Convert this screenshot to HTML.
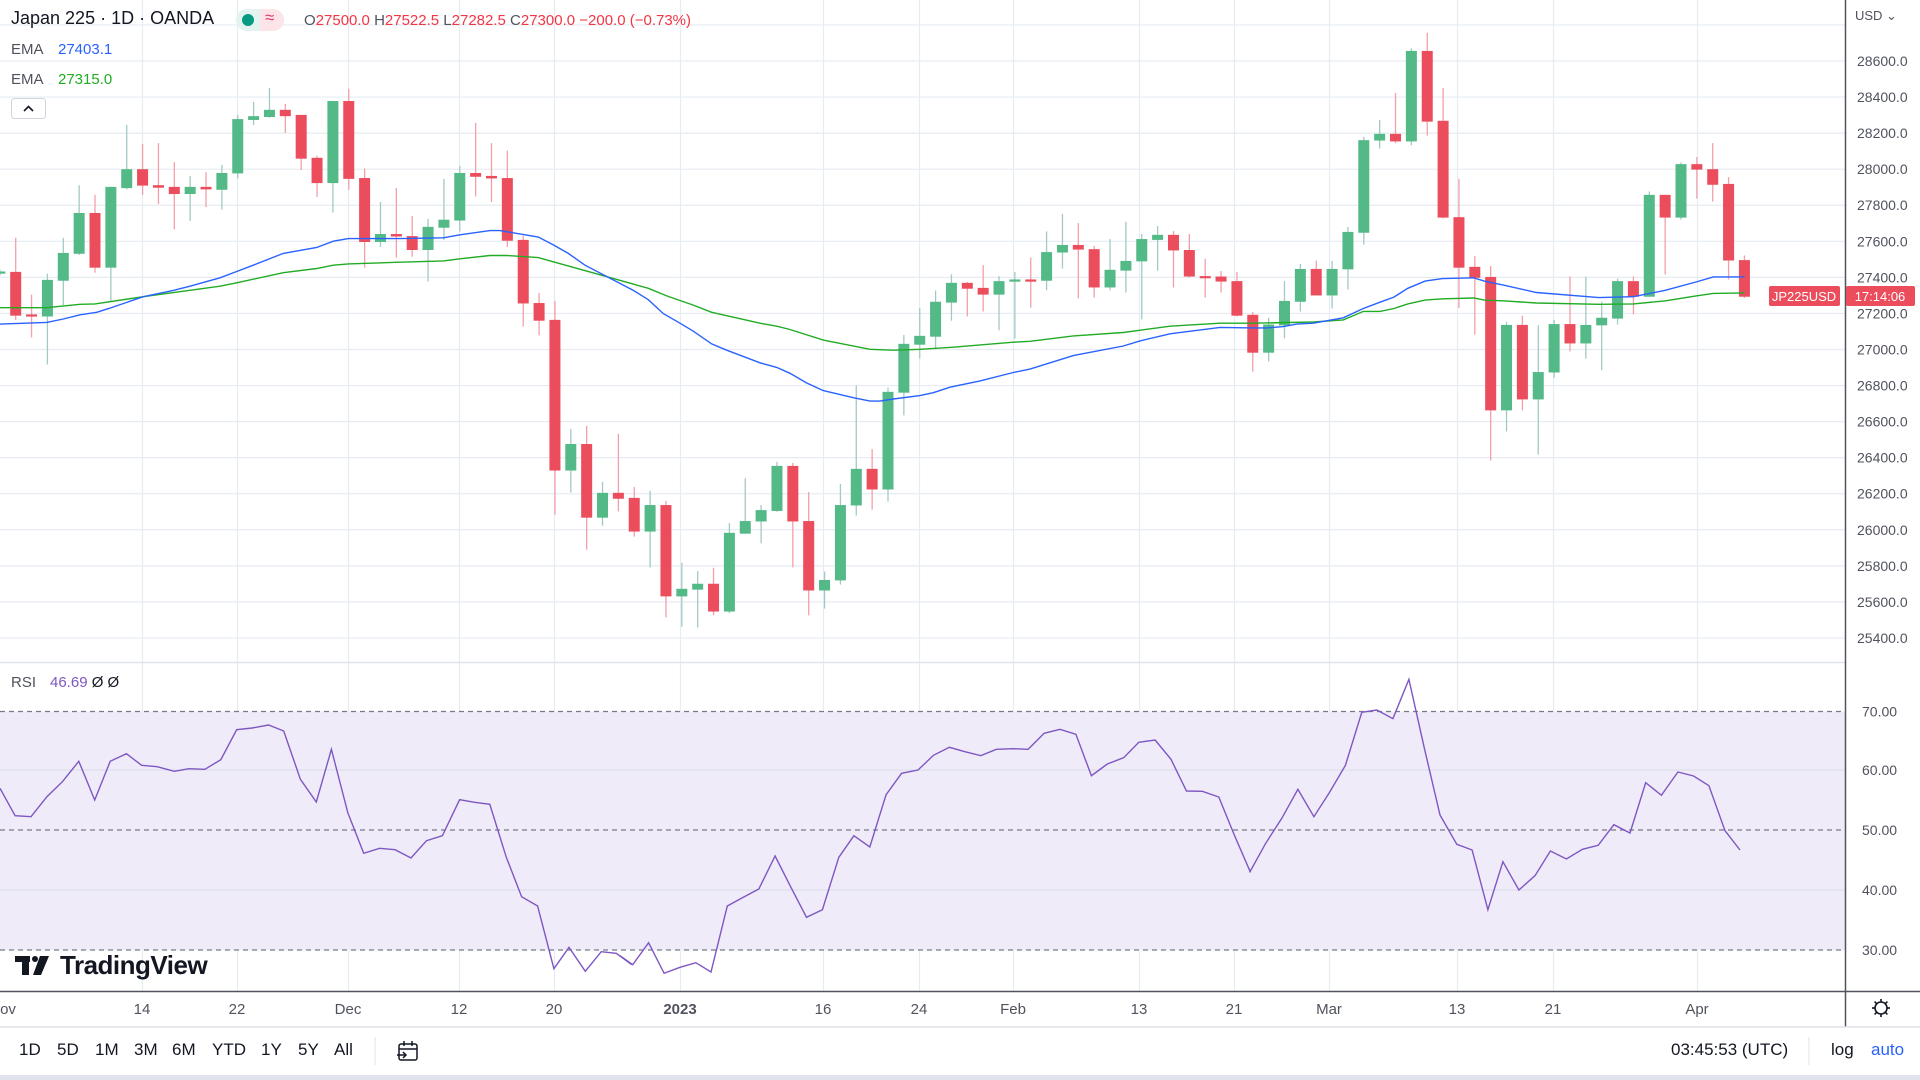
<!DOCTYPE html>
<html><head><meta charset="utf-8"><style>
html,body{margin:0;padding:0;background:#fff;}
body{width:1920px;height:1080px;overflow:hidden;position:relative;font-family:"Liberation Sans","DejaVu Sans",sans-serif;}
svg{position:absolute;left:0;top:0;}
.t{position:absolute;white-space:nowrap;}
</style></head><body>
<svg id="s" width="1920" height="1080" viewBox="0 0 1920 1080">
<g id="grid"></g>
<rect x="0" y="711.5" width="1845" height="238.7" fill="#efebf8"/>
<g id="rsigrid"></g>
<g id="cand"></g>
<g id="lines"></g>
<line x1="0" y1="662.5" x2="1845" y2="662.5" stroke="#e0e3eb" stroke-width="1.5"/>
<line x1="1845.5" y1="0" x2="1845.5" y2="1027" stroke="#50535e" stroke-width="1.5"/>
<line x1="0" y1="991.5" x2="1920" y2="991.5" stroke="#50535e" stroke-width="1.5"/>
<line x1="0" y1="1027" x2="1920" y2="1027" stroke="#e0e3eb" stroke-width="1.5"/>
<rect x="0" y="1075" width="1920" height="5" fill="#e0e3eb"/>
<line x1="375" y1="1037" x2="375" y2="1065" stroke="#e0e3eb"/>
<line x1="1809" y1="1037" x2="1809" y2="1065" stroke="#e0e3eb"/>
<rect x="1769" y="286" width="71" height="20" rx="2" fill="#eb4d5c"/>
<rect x="1846" y="286" width="69" height="20" rx="2" fill="#eb4d5c"/>
<text x="1804" y="301" font-size="13" fill="#fff" text-anchor="middle" font-family="Liberation Sans">JP225USD</text>
<text x="1880" y="301" font-size="13" fill="#fff" text-anchor="middle" font-family="Liberation Sans">17:14:06</text>
<g fill="#131722">
<rect x="15" y="956" width="15" height="6"/><rect x="22" y="956" width="7" height="19"/>
<circle cx="35" cy="959" r="3"/>
<polygon points="40,956 49,956 41,975 33,975"/>
</g>
<text x="60" y="974" font-size="26" font-weight="bold" fill="#131722" font-family="Liberation Sans" letter-spacing="-0.5">TradingView</text>
<g transform="translate(1881,1008)" fill="none" stroke="#131722" stroke-width="1.6">
<circle r="6"/>
<line x1="0" y1="-9" x2="0" y2="-6"/><line x1="0" y1="9" x2="0" y2="6"/>
<line x1="-9" y1="0" x2="-6" y2="0"/><line x1="9" y1="0" x2="6" y2="0"/>
<line x1="-6.4" y1="-6.4" x2="-4.2" y2="-4.2"/><line x1="6.4" y1="6.4" x2="4.2" y2="4.2"/>
<line x1="-6.4" y1="6.4" x2="-4.2" y2="4.2"/><line x1="6.4" y1="-6.4" x2="4.2" y2="-4.2"/>
</g>
<g transform="translate(397,1041)" fill="none" stroke="#131722" stroke-width="1.5">
<rect x="2" y="3" width="18" height="16" rx="2"/><line x1="2" y1="8" x2="20" y2="8"/>
<line x1="7" y1="0" x2="7" y2="5"/><line x1="15" y1="0" x2="15" y2="5"/>
<line x1="0" y1="14" x2="9" y2="14"/><polyline points="6,11 9,14 6,17"/>
</g>
<rect x="11.5" y="98.5" width="34" height="20" rx="3" fill="#fff" stroke="#d1d4dc"/>
<polyline points="24,111 28.5,106.5 33,111" fill="none" stroke="#131722" stroke-width="1.6"/>
<g id="labels" font-family="Liberation Sans" font-size="14" fill="#50535e"></g>
</svg>

<div class="t" style="left:11px;top:8px;font-size:18px;color:#131722;">Japan 225 · 1D · OANDA</div>
<div class="t" style="left:236px;top:9px;width:48px;height:22px;border-radius:11px;background:#e3f3ef;"></div>
<div class="t" style="left:260px;top:9px;width:24px;height:22px;border-radius:0 11px 11px 0;background:#fde4e8;"></div>
<div class="t" style="left:242px;top:14px;width:12px;height:12px;border-radius:6px;background:#089981;"></div>
<div class="t" style="left:265px;top:8px;font-size:17px;color:#e0336f;">≈</div>
<div class="t" style="left:304px;top:12px;font-size:15px;color:#f23645;"><span style="color:#50535e">O</span>27500.0 <span style="color:#50535e">H</span>27522.5 <span style="color:#50535e">L</span>27282.5 <span style="color:#50535e">C</span>27300.0 −200.0 (−0.73%)</div>
<div class="t" style="left:11px;top:41px;font-size:15px;color:#50535e;">EMA</div>
<div class="t" style="left:58px;top:41px;font-size:15px;color:#2962ff;">27403.1</div>
<div class="t" style="left:11px;top:71px;font-size:15px;color:#50535e;">EMA</div>
<div class="t" style="left:58px;top:71px;font-size:15px;color:#22ab25;">27315.0</div>
<div class="t" style="left:11px;top:674px;font-size:15px;color:#50535e;">RSI</div>
<div class="t" style="left:50px;top:674px;font-size:15px;color:#7e57c2;">46.69 <span style="color:#131722">Ø Ø</span></div>
<div class="t" style="left:1855px;top:8px;font-size:13px;color:#50535e;">USD ⌄</div>

<div class="t" style="left:19px;top:1040px;font-size:17px;color:#131722;">
<span style="position:absolute;left:0">1D</span><span style="position:absolute;left:38px">5D</span><span style="position:absolute;left:76px">1M</span><span style="position:absolute;left:115px">3M</span><span style="position:absolute;left:153px">6M</span><span style="position:absolute;left:193px">YTD</span><span style="position:absolute;left:242px">1Y</span><span style="position:absolute;left:279px">5Y</span><span style="position:absolute;left:315px">All</span></div>
<div class="t" style="left:1671px;top:1040px;font-size:17px;color:#131722;">03:45:53 (UTC)</div>
<div class="t" style="left:1831px;top:1040px;font-size:17px;color:#131722;">log</div>
<div class="t" style="left:1871px;top:1040px;font-size:17px;color:#2962ff;">auto</div>

<script>
var NS="http://www.w3.org/2000/svg";
function el(p,t,a,txt){var e=document.createElementNS(NS,t);for(var k in a)e.setAttribute(k,a[k]);if(txt!=null)e.textContent=txt;document.getElementById(p).appendChild(e);return e;}
var VX=[142,237,348,459,554,680,823,919,1013,1139,1234,1329,1457,1553,1697];
var GC="#e6ecf2";
VX.forEach(function(x){el("grid","line",{x1:x+.5,y1:0,x2:x+.5,y2:991,stroke:GC,"stroke-width":1.2});});
function py(p){return 61+(28600-p)/200*36.06;}
for(var p=28800;p>=25400;p-=200){var y=py(p);el("grid","line",{x1:0,y1:y,x2:1845,y2:y,stroke:GC,"stroke-width":1.2});
 if(p<=28600) el("labels","text",{x:1857,y:y+5},p.toFixed(1));}
[770,890].forEach(function(y){el("rsigrid","line",{x1:0,y1:y,x2:1845,y2:y,stroke:"#dcdfea","stroke-width":1.2});});
[711.5,830,950].forEach(function(y){el("rsigrid","line",{x1:0,y1:y,x2:1845,y2:y,stroke:"#787b86","stroke-width":1.2,"stroke-dasharray":"5 4"});});
[["70.00",711.5],["60.00",770],["50.00",830],["40.00",890],["30.00",950]].forEach(function(a){el("labels","text",{x:1862,y:a[1]+5},a[0]);});
[["ov",8],["14",142],["22",237],["Dec",348],["12",459],["20",554],["2023",680],["16",823],["24",919],["Feb",1013],["13",1139],["21",1234],["Mar",1329],["13",1457],["21",1553],["Apr",1697]].forEach(function(a){
 var t=el("labels","text",{x:a[1],y:1014,"text-anchor":"middle","font-size":15,fill:"#50535e"},a[0]); if(a[0]=="2023")t.setAttribute("font-weight","bold");});
var C=[
["g",645,650,640,655],
["r",646,750,565,760],["r",747,752,700,802],["g",665,752,650,866],["g",601,667,565,725],["g",506,603,440,606],["r",506,636,463,648],["g",444,636,444,715],["g",402,447,297,450],["r",402,441,342,463],["r",440,446,340,485],
["r",444,461,385,545],["g",444,461,418,525],["r",444,450,409,492],["g",411,451,392,498],["g",283,412,273,424],["g",276,285,242,297],["g",261,278,209,280],["r",261,276,247,316],["r",273,377,273,404],["r",375,435,370,468],
["g",240,435,240,505],["r",240,425,211,451],["r",423,575,400,636],["g",556,575,480,587],["r",556,562,447,612],["r",561,594,513,610],["g",539,594,520,669],["g",522,541,425,570],["g",411,524,394,550],["r",411,420,292,467],
["r",418,424,340,480],["r",423,572,358,587],["r",570,721,560,776],["r",720,762,696,797],["r",760,1118,715,1223],["g",1055,1118,1019,1170],["r",1055,1230,1012,1306],["g",1171,1230,1145,1249],["r",1171,1185,1031,1215],["r",1183,1263,1157,1275],
["g",1200,1263,1166,1348],["r",1200,1417,1190,1467],["g",1399,1417,1337,1489],["g",1387,1401,1357,1491],["r",1387,1453,1349,1462],["g",1266,1453,1243,1457],["g",1238,1268,1136,1268],["g",1212,1239,1200,1291],["g",1107,1214,1097,1216],["r",1107,1239,1100,1348],
["r",1238,1403,1169,1462],["g",1378,1403,1358,1446],["g",1200,1379,1150,1389],["g",1114,1201,916,1225],["r",1114,1163,1067,1211],["g",931,1163,921,1192],["g",817,933,796,987],["g",798,819,732,852],["g",717,800,690,830],["g",672,719,652,762],
["r",672,686,670,752],["r",684,700,630,740],["g",668,700,656,785],["g",664,668,646,805],["r",664,667,612,731],["g",599,667,550,690],["g",582,600,508,638],["r",582,593,530,709],["r",592,683,584,707],["g",641,683,568,690],
["g",620,643,527,695],["g",568,621,556,759],["g",558,570,537,643],["r",558,595,549,683],["r",594,657,556,659],["r",656,659,615,707],["r",657,669,644,695],["r",668,750,646,752],["r",748,838,741,883],["g",771,838,755,859],
["g",715,773,668,804],["g",639,717,627,740],["r",639,702,619,702],["g",639,702,620,733],["g",551,640,539,688],["g",333,553,325,581],["g",318,334,285,353],["r",318,336,221,340],["g",121,336,115,345],["r",121,289,78,322],
["r",287,517,209,519],["r",516,636,425,732],["r",634,660,608,795],["r",658,975,632,1094],["g",772,975,765,1025],["r",772,949,750,975],["g",884,949,773,1080],["g",770,885,760,898],["r",770,816,657,835],["g",772,816,657,852],
["g",755,773,717,880],["g",668,757,662,771],["r",668,705,657,747],["g",463,705,455,705],["r",463,517,463,652],["g",390,517,386,522],["r",390,403,373,472],["r",402,439,340,479],["r",437,619,421,664],["r",618,705,607,708]];
var K=2.376;
C.forEach(function(c,k){var i=k-1;var x=15.7+15.86*i;var up=c[0]=="g";
 el("cand","line",{x1:x,y1:c[3]/K,x2:x,y2:c[4]/K,stroke:up?"#a3c9c6":"#f39fa9","stroke-width":1.3});
 var t=c[1]/K,b=c[2]/K; if(b-t<2.2){b=t+2.2;}
 el("cand","rect",{x:x-5.5,y:t,width:11,height:b-t,fill:up?"#53b987":"#eb4d5c"});});
function pts(segs){var out=[];segs.forEach(function(s){var off=s[0],sx=s[1],sy=s[2],oy=s[3];s[4].forEach(function(p){out.push((off+p[0]/sx).toFixed(1)+","+(oy+p[1]/sy).toFixed(1));});});return out.join(" ");}
var blue=pts([[0,3,K,0,[[0,770],[140,766],[190,758],[240,748],[290,742],[330,732],[430,705],[520,690],[570,680],[660,660],[710,645],[760,630],[850,602],[950,588],[1000,573],[1045,567],[1200,567],[1330,565]]],
[460,3,K,0,[[0,558],[90,548],[120,548],[235,563],[280,582],[325,602],[375,630],[520,690],[565,712],[610,745],[660,768],[700,787],[755,817],[800,832],[900,862],[950,873],[990,887],[1040,910],[1090,928],[1180,945],[1230,953],[1260,953],[1300,948]]],
[920,3,K,0,[[0,940],[40,933],[90,920],[180,905],[280,885],[330,877],[460,845],[610,822],[660,810],[750,793],[900,778],[1000,779],[1040,779],[1090,776],[1130,770],[1180,768],[1270,755],[1330,733]]],
[1380,2.88,K,0,[[0,718],[40,706],[80,685],[130,668],[180,662],[270,660],[300,668],[360,678],[450,695],[630,707],[730,705],[820,690],[910,670],[960,658],[1050,658]]]]);
var green=pts([[0,3,K,0,[[0,731],[140,731],[240,723],[285,722],[430,705],[660,680],[710,672],[850,648],[950,638],[1000,630],[1045,627],[1200,623],[1330,620]]],
[460,3,K,0,[[0,615],[90,607],[140,607],[235,612],[280,622],[430,655],[520,675],[565,685],[620,703],[700,725],[755,742],[800,750],[900,768],[950,775],[990,783],[1090,808],[1230,830],[1300,832]]],
[920,3,K,0,[[0,830],[100,825],[280,813],[330,811],[460,798],[610,790],[750,775],[900,768],[1000,768],[1180,765],[1270,760],[1330,740]]],
[1380,2.88,K,0,[[0,740],[40,733],[80,722],[130,713],[180,710],[270,708],[300,713],[360,715],[450,720],[630,723],[730,722],[820,715],[910,703],[960,697],[1050,696]]]]);
el("lines","polyline",{points:green,fill:"none",stroke:"#22ab25","stroke-width":1.4});
el("lines","polyline",{points:blue,fill:"none",stroke:"#2962ff","stroke-width":1.4});
var rsi=pts([[0,2.45,3,660,[[0,385],[37,467],[76,470],[115,410],[153,365],[193,304],[232,420],[270,304],[310,281],[347,316],[385,320],[427,334],[463,326],[502,328],[541,299],[580,209],[618,204],[658,195],[695,213],[736,358],[775,426],[812,268],[852,458],[891,580],[930,565],[968,569],[1007,594],[1045,542],[1084,527],[1126,419],[1163,427],[1200,433],[1240,590],[1278,710],[1317,738],[1357,926],[1394,862],[1434,934],[1473,875],[1510,880],[1548,914]]],
[620,2.45,3,660,[[0,887],[31,914],[70,848],[108,940],[147,922],[186,908],[223,936],[263,738],[302,712],[340,687],[380,588],[418,680],[457,772],[496,749],[536,592],[573,527],[612,561],[652,404],[690,340],[730,330],[768,286],[807,262],[845,275],[884,287],[922,268],[962,266],[1000,268],[1039,220],[1078,208],[1117,223],[1155,347],[1194,312],[1234,293],[1271,247],[1311,240],[1350,298],[1388,393],[1427,394],[1467,411],[1505,525],[1544,635]]],
[1240,2.8,3,660,[[28,635],[72,550],[117,475],[162,388],[207,470],[250,398],[295,316],[341,157],[383,150],[428,176],[473,58],[517,268],[560,465],[607,553],[650,570],[694,749],[736,605],[781,690],[826,647],[869,573],[914,597],[959,568],[1003,556],[1047,494],[1092,519],[1136,368],[1180,406],[1226,336],[1270,348],[1313,377],[1358,512],[1400,570]]]]);
el("lines","polyline",{points:rsi,fill:"none",stroke:"#7e57c2","stroke-width":1.4});
</script>
</body></html>
